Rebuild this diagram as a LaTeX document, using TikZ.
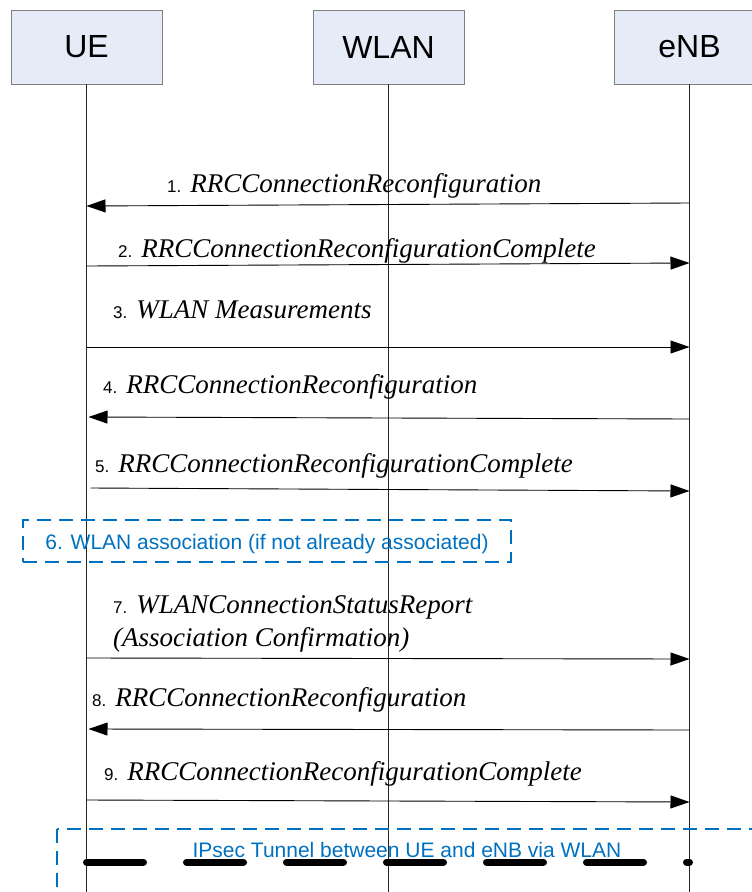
\documentclass[tikz,border=0pt]{standalone}
\usepackage{fontspec}
\setmainfont{Liberation Serif}
\newfontfamily\arialfont{Liberation Sans}
\usetikzlibrary{arrows.meta,positioning,calc}
\definecolor{boxfill}{HTML}{E6ECF7}
\definecolor{boxgray}{HTML}{7F7F7F}
\definecolor{noteblue}{HTML}{0070C0}
\newcommand{\stepnum}[1]{{\arialfont\fontsize{17}{20}\selectfont #1}}
\newcommand{\msgname}[1]{{\itshape #1}}
\tikzset{
    entity/.style={
        draw=boxgray,
        fill=boxfill,
        line width=0.8pt,
        minimum width=151pt,
        minimum height=74pt,
        inner sep=0pt,
        font=\arialfont\fontsize{32}{36}\selectfont
    },
    life/.style={
        draw=black!85,
        line width=0.8pt
    },
    arrow/.style={
        -{Triangle[length=19pt,width=13pt]},
        line width=0.9pt
    },
    msg/.style={
        anchor=base west,
        inner sep=0pt,
        align=left,
        font=\fontsize{27}{33}\selectfont
    },
    note/.style={
        draw=noteblue,
        dash pattern=on 14pt off 8pt,
        line width=1.8pt
    },
    notetext/.style={
        text=noteblue,
        inner sep=0pt,
        font=\arialfont\fontsize{21}{25}\selectfont
    },
    tunnel/.style={
        line width=7pt,
        line cap=round,
        dash pattern=on 57pt off 43pt
    }
}

\begin{document}
\begin{tikzpicture}[x=1pt, y=-1pt]
\useasboundingbox (0,0) rectangle (752,892);
\clip (0,0) rectangle (752,892);

% entities
\node[entity] (ue) at (86.5,47) {UE};
\node[entity, right=150.2pt of ue] (wlan) {WLAN};
\node[entity, right=149.2pt of wlan] (enb) {eNB};
\coordinate (bottom) at (0,892);

% lifelines
\draw[life] (ue.south) -- (ue |- bottom);
\draw[life] (wlan.south) -- (wlan |- bottom);
\draw[life] (enb.south) -- (enb |- bottom);

% message ends on the lifelines
\coordinate (m1e) at (enb |- 0,203);
\coordinate (m1u) at (ue |- 0,206);
\coordinate (m2u) at (ue |- 0,266);
\coordinate (m2e) at (enb |- 0,263);
\coordinate (m3u) at (ue |- 0,347);
\coordinate (m3e) at (enb |- 0,347);
\coordinate (m4e) at (enb |- 0,419);
\coordinate (m4u) at ($(ue |- 0,417)+(2,0)$);
\coordinate (m5u) at ($(ue |- 0,488)+(4,0)$);
\coordinate (m5e) at (enb |- 0,491);
\coordinate (m7u) at (ue |- 0,658);
\coordinate (m7e) at (enb |- 0,659);
\coordinate (m8e) at (enb |- 0,730);
\coordinate (m8u) at ($(ue |- 0,729)+(2,0)$);
\coordinate (m9u) at (ue |- 0,800);
\coordinate (m9e) at (enb |- 0,802);
\coordinate (t1) at (ue |- 0,862);
\coordinate (t2) at (enb |- 0,862);

% messages
\draw[arrow] (m1e) -- (m1u);
\node[msg] (l1) at (167,192)
    {\stepnum{1.} \msgname{RRCConnectionReconfiguration}};
\draw[arrow] (m2u) -- (m2e);
\node[msg] (l2) at (118,257)
    {\stepnum{2.} \msgname{RRCConnectionReconfigurationComplete}};
\draw[arrow] (m3u) -- (m3e);
\node[msg] (l3) at (113,318)
    {\stepnum{3.} \msgname{WLAN Measurements}};
\draw[arrow] (m4e) -- (m4u);
\node[msg] (l4) at (103,393)
    {\stepnum{4.} \msgname{RRCConnectionReconfiguration}};
\draw[arrow] (m5u) -- (m5e);
\node[msg] (l5) at (95,472)
    {\stepnum{5.} \msgname{RRCConnectionReconfigurationComplete}};

\node[note, notetext, minimum width=488pt, minimum height=42pt,
      text height=17pt, text depth=0pt] (assoc)
    at (267,541) {6. WLAN association (if not already associated)};

\draw[arrow] (m7u) -- (m7e);
\node[msg] (l7) at (113,646)
    {\stepnum{7.} \msgname{WLANConnectionStatusReport}\\
     \msgname{(Association Confirmation)}};
\draw[arrow] (m8e) -- (m8u);
\node[msg] (l8) at (92,706)
    {\stepnum{8.} \msgname{RRCConnectionReconfiguration}};
\draw[arrow] (m9u) -- (m9e);
\node[msg] (l9) at (104,780)
    {\stepnum{9.} \msgname{RRCConnectionReconfigurationComplete}};

% tunnel
\draw[note] (57,829) rectangle (775,915);
\node[notetext, anchor=base] (ipsec) at (407,857)
    {IPsec Tunnel between UE and eNB via WLAN};
\draw[tunnel] (t1) -- (t2);

\end{tikzpicture}
\end{document}
